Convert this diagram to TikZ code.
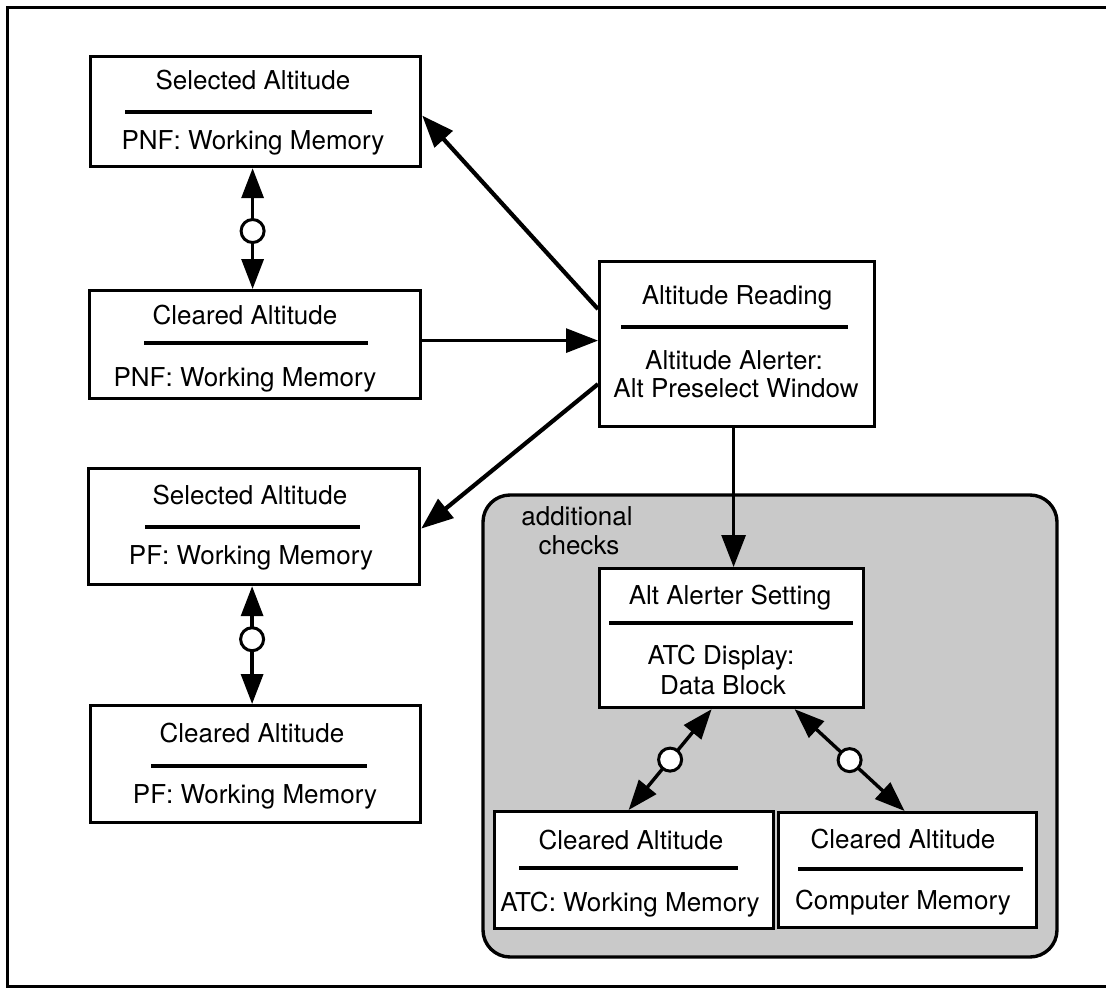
\documentclass[tikz,border=0pt]{standalone}
\usepackage{fontspec}
\setmainfont{TeX Gyre Heros}
\usetikzlibrary{arrows.meta,calc}
\begin{document}
\begin{tikzpicture}[x=1pt,y=-1pt,
  box/.style={draw, line width=3.2pt, fill=white, inner sep=0pt, anchor=north west},
  lbl/.style={anchor=base, inner sep=0pt, font=\fontsize{26}{30}\selectfont},
  sepline/.style={line width=3.2pt},
  tip/.style={-{Triangle[length=32pt,width=24pt]}},
  heavy/.style={line width=4.2pt, tip},
  light/.style={line width=3pt, tip},
  dbl/.style={line width=3.4pt, {Triangle[length=30pt,width=22pt]}-{Triangle[length=30pt,width=22pt]}},
  ring/.style={draw, circle, fill=white, line width=3pt, inner sep=0pt, minimum size=23pt},
  region/.style={draw, line width=3.4pt, fill=black!21, rounded corners=27pt}
]
\useasboundingbox (0,0) rectangle (1106,990);
% outer frame
\draw[line width=3pt] (1112,8) -- (7,8) -- (7,986) -- (1112,986);

% shaded region
\draw[region] (483,495) rectangle (1057,957);
\node[lbl] (addl) at (577,525) {additional};
\node[lbl] (chks) at (579,554) {checks};

% boxes
\node[box, minimum width=330pt, minimum height=110pt] (A) at (89,55) {};
\node[box, minimum width=331pt, minimum height=108pt] (B) at (88,289) {};
\node[box, minimum width=275pt, minimum height=165pt] (C) at (598,260) {};
\node[box, minimum width=331pt, minimum height=116pt] (D) at (87,467) {};
\node[box, minimum width=330pt, minimum height=117pt] (E) at (89,704) {};
\node[box, minimum width=264pt, minimum height=139pt] (G) at (598,567) {};
\node[box, minimum width=279pt, minimum height=117pt] (H) at (493,810) {};
\node[box, minimum width=258pt, minimum height=115pt] (I) at (777,811) {};

% box A
\node[lbl] (A1) at (253,89) {Selected Altitude};
\draw[sepline] (125,112) -- (372,112);
\node[lbl] (A2) at (253,149) {PNF: Working Memory};
% box B
\node[lbl] (B1) at (245,324) {Cleared Altitude};
\draw[sepline] (144,343) -- (368,343);
\node[lbl] (B2) at (245,386) {PNF: Working Memory};
% box C
\node[lbl] (C1) at (737,304) {Altitude Reading};
\draw[sepline] (621,327) -- (848,327);
\node[lbl] (C2) at (734,369) {Altitude Alerter:};
\node[lbl] (C3) at (736,397) {Alt Preselect Window};
% box D
\node[lbl] (D1) at (250,504) {Selected Altitude};
\draw[sepline] (145,527) -- (360,527);
\node[lbl] (D2) at (251,564) {PF: Working Memory};
% box E
\node[lbl] (E1) at (252,742) {Cleared Altitude};
\draw[sepline] (151,766) -- (367,766);
\node[lbl] (E2) at (255,803) {PF: Working Memory};
% box G
\node[lbl] (G1) at (730,604) {Alt Alerter Setting};
\draw[sepline] (609,623) -- (853,623);
\node[lbl] (G2) at (721,664) {ATC Display:};
\node[lbl] (G3) at (723,694) {Data Block};
% box H
\node[lbl] (H1) at (631,849) {Cleared Altitude};
\draw[sepline] (519,868) -- (738,868);
\node[lbl] (H2) at (630,911) {ATC: Working Memory};
% box I
\node[lbl] (I1) at (903,848) {Cleared Altitude};
\draw[sepline] (798,869) -- (1023,869);
\node[lbl] (I2) at (903,909) {Computer Memory};

% connectors
\draw[heavy] ([yshift=35pt]C.west) -- ([yshift=-4pt]A.east);
\draw[light] ([yshift=4pt]B.east) -- ([yshift=4pt]B.east -| C.west);
\draw[heavy] ([yshift=-40pt]C.west) -- ([yshift=-2pt]D.east);
\draw[light] ([xshift=-3.5pt]C.south) -- ([xshift=-3.5pt]C.south |- G.north);

\draw[dbl] ([xshift=-3pt]A.south) -- node[ring, pos=0.52] (r1) {} ([xshift=-3pt]A.south |- B.north);
\draw[dbl] ([xshift=-2pt]D.south) -- node[ring, pos=0.45] (r2) {} ([xshift=-2pt]D.south |- E.north);
\draw[dbl] ([xshift=-20pt]G.south) -- node[ring, pos=0.5] (r3) {} ([xshift=-5.5pt]H.north);
\draw[dbl] ([xshift=63pt]G.south) -- node[ring, pos=0.5] (r4) {} ([xshift=-3pt]I.north);
\end{tikzpicture}
\end{document}
